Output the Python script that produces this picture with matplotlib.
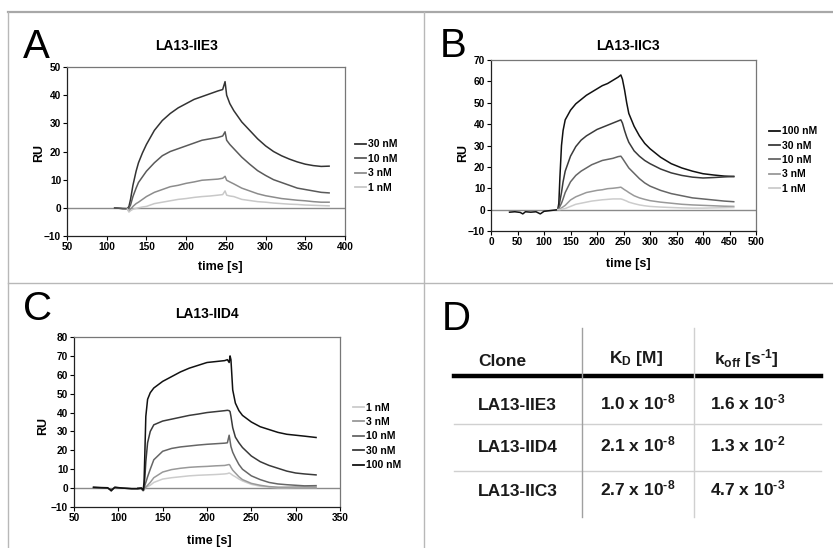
import numpy as np
import matplotlib
matplotlib.use("Agg")
import matplotlib.pyplot as plt
from matplotlib.lines import Line2D

plt.rcParams['font.family'] = ['Liberation Sans', 'DejaVu Sans']
plt.rcParams['mathtext.fontset'] = 'custom'
plt.rcParams['mathtext.rm'] = 'Liberation Sans:bold'
plt.rcParams['mathtext.bf'] = 'Liberation Sans:bold'
plt.rcParams['mathtext.it'] = 'Liberation Sans:bold'
plt.rcParams['mathtext.sf'] = 'Liberation Sans:bold'

nan = np.nan

# ---------------- data ----------------
# panel A : LA13-IIE3
a_time = [110, 120, 126, 128, 130, 133, 137, 140, 145, 150, 160, 170, 180, 190, 200,
          210, 220, 230, 240, 246, 249, 251, 255, 260, 270, 280, 290, 300, 310, 320,
          330, 340, 350, 360, 370, 380]
a_30nM = [0, -0.3, -0.3, 0.5, 3, 8, 13, 16, 19.5, 22.5, 27.5, 31, 33.5, 35.5, 37,
          38.5, 39.5, 40.5, 41.5, 42, 44.8, 40, 37, 34.5, 30.5, 27.5, 24.5, 22, 20, 18.5,
          17.3, 16.3, 15.5, 15, 14.7, 14.8]
a_10nM = [0, -0.2, -0.3, 0, 1, 4, 7, 9, 11, 13, 16, 18.5, 20, 21, 22,
          23, 24, 24.5, 25, 25.5, 27, 24, 22.5, 21, 18, 15.5, 13.2, 11.5, 10, 9,
          8, 7, 6.5, 6, 5.5, 5.3]
a_3nM = [nan, nan, -0.5, -1, -0.5, 0.5, 1.5, 2, 3, 4, 5.5, 6.5, 7.5, 8, 8.7,
         9.2, 9.8, 10, 10.2, 10.5, 11.2, 9.8, 9.2, 8.5, 7, 6, 5, 4.3, 3.8, 3.3,
         3, 2.7, 2.5, 2.2, 2, 2]
a_1nM = [nan, nan, -0.5, -1.5, -1, -0.5, -0.2, 0, 0.3, 0.5, 1.5, 2, 2.5, 3, 3.3,
         3.7, 4, 4.2, 4.5, 4.7, 6, 4.5, 4.2, 4, 3, 2.6, 2.2, 2, 1.7, 1.5,
         1.3, 1.2, 1, 0.9, 0.8, 0.7]

# panel B : LA13-IIC3
b_time = [35, 45, 55, 60, 65, 75, 85, 93, 100, 110, 120, 126, 128, 130, 133, 136, 140,
          150, 160, 170, 180, 190, 200, 210, 220, 230, 240, 245, 248, 252, 256, 260,
          270, 280, 290, 300, 320, 340, 360, 380, 400, 420, 440, 458]
b_100nM = [-1.2, -1, -1.3, -2, -1, -1.2, -1, -2, -0.8, -0.5, -0.2, 0, 3, 15, 30, 37, 42,
           46.5, 49.5, 51.5, 53.5, 55, 56.5, 58, 59, 60.5, 62, 63, 61, 56, 50, 45,
           39, 34.5, 31, 28.5, 24.5, 21.5, 19.5, 18, 16.8, 16.2, 15.7, 15.5]
b_30nM = [nan] * 11 + [0, 1, 4, 8, 13, 18,
          25, 29.5, 32.5, 34.5, 36, 37.5, 38.5, 39.5, 40.5, 41.5, 42, 40.5, 37, 34, 31.5,
          27.5, 25, 23, 21.5, 19, 17.2, 16, 15.2, 14.8, 15, 15.3, 15.5]
b_10nM = [nan] * 11 + [0, 0.5, 1.5, 3, 5, 8,
          13, 16, 18, 19.5, 21, 22, 23, 23.5, 24, 24.8, 25, 24, 22.5, 21, 19.5,
          17, 14.5, 12.5, 11, 9, 7.5, 6.5, 5.5, 5, 4.5, 4, 3.7]
b_3nM = [nan] * 11 + [0, 0, 0.3, 0.8, 1.3, 2,
         4.5, 6, 7, 8, 8.5, 9, 9.3, 9.8, 10, 10.3, 10.5, 10, 9.3, 8.7, 8,
         6.5, 5.5, 4.8, 4.2, 3.5, 3, 2.5, 2.2, 2, 1.8, 1.6, 1.5]
b_1nM = [nan] * 11 + [0, 0, 0, 0.2, 0.3, 0.5,
         1.5, 2.5, 3, 3.5, 4, 4.3, 4.6, 4.8, 5, 5, 5, 4.8, 4.4, 4, 3.5,
         2.8, 2.2, 1.8, 1.5, 1.2, 1, 0.8, 0.7, 0.7, 0.8, 0.9, 1]

# panel C : LA13-IID4
c_time = [72, 80, 88, 92, 96, 105, 115, 122, 126, 128, 129, 130, 131, 133, 136, 140,
          150, 160, 170, 180, 190, 200, 210, 220, 223, 225, 226, 227, 229, 232, 236,
          240, 250, 260, 270, 280, 290, 300, 310, 323]
c_100nM = [0.5, 0.3, 0.2, -1.5, 0.5, 0, -0.3, -0.3, 0, -1, 3, 20, 38, 47, 50.5, 53,
           56.5, 59, 61.5, 63.5, 65, 66.5, 67, 67.5, 68, 66.5, 70, 68, 52, 45, 41,
           38.5, 35, 32.5, 31, 29.5, 28.5, 28, 27.5, 26.8]
c_30nM = [0.3, 0.2, 0, -1, 0.3, 0, -0.3, -0.3, 0, -1, 1, 6, 14, 24, 30, 33.5,
          35.5, 36.5, 37.5, 38.5, 39.2, 40, 40.5, 41, 41.2, 41, 40.5, 38, 32, 27, 24,
          21.5, 17, 14, 12, 10.5, 9, 8, 7.5, 7]
c_10nM = [nan] * 7 + [0, 0, -1, -0.5, 1.5, 3, 6, 10, 15,
          19.5, 21, 21.8, 22.3, 22.8, 23.2, 23.5, 23.8, 24, 28, 25, 22, 19, 16, 12.5,
          10, 6.5, 4.5, 3, 2.2, 1.8, 1.5, 1.2, 1.3]
c_3nM = [nan] * 7 + [0, -0.5, -1.5, -1, 0, 0.5, 1.5, 3, 5.5,
         8.5, 9.8, 10.5, 11, 11.3, 11.5, 11.8, 12, 12.3, 12.5, 12, 11, 9.5, 8, 6,
         4.5, 2.5, 1.5, 0.8, 0.5, 0.5, 0.6, 0.6, 0.5]
c_1nM = [nan] * 7 + [0, -0.5, -1, -0.8, 0, 0.3, 0.8, 1.5, 3,
         4.8, 5.5, 6, 6.5, 6.8, 7, 7.2, 7.5, 7.7, 8, 7.8, 7.5, 6.8, 6, 4.8,
         3.8, 2, 1, 0.5, 0.2, 0.2, 0.3, 0.3, 0.3]

# panel D : table
clones = ['LA13-IIE3', 'LA13-IID4', 'LA13-IIC3']
kd_vals = [r'1.0 x 10$^{\text{-}8}$', r'2.1 x 10$^{\text{-}8}$', r'2.7 x 10$^{\text{-}8}$']
koff_vals = [r'1.6 x 10$^{\text{-}3}$', r'1.3 x 10$^{\text{-}2}$', r'4.7 x 10$^{\text{-}3}$']

W, H = 833, 548
fig = plt.figure(figsize=(W / 100, H / 100), dpi=100)


def fx(px):
    return px / W


def fy(py):
    return 1 - py / H


def box(l, t, r, b):
    return [fx(l), fy(b), fx(r) - fx(l), fy(t) - fy(b)]


def sensorgram(rect, t, series, labels, colors, xlim, xstep, ylim, ystep, leg_xy):
    ax = fig.add_axes(rect)
    t = np.array(t, dtype=float)
    for vals, c in zip(series, colors):
        ax.plot(t, np.array(vals, dtype=float), color=c, lw=1.1, zorder=3)
    ax.axhline(0, color='#8a8a8a', lw=1.0, zorder=2)
    ax.set_xlim(*xlim)
    ax.set_ylim(*ylim)
    ax.set_xticks(np.arange(xlim[0], xlim[1] + 1, xstep))
    ax.set_yticks(np.arange(ylim[0], ylim[1] + 1, ystep))
    ax.tick_params(direction='out', length=3, width=0.8, labelsize=7.3, pad=1.2)
    for lab in ax.get_xticklabels() + ax.get_yticklabels():
        lab.set_fontweight('bold')
    for s in ['left', 'bottom']:
        ax.spines[s].set_color('#222222')
        ax.spines[s].set_linewidth(0.9)
    for s in ['top', 'right']:
        ax.spines[s].set_color('#777777')
        ax.spines[s].set_linewidth(0.9)
    handles = [Line2D([], [], color=c, lw=1.3) for c in colors]
    ax.legend(handles, labels, loc='center left', bbox_to_anchor=leg_xy, frameon=False,
              handlelength=1.1, handletextpad=0.15, labelspacing=0.42,
              borderaxespad=0, borderpad=0, prop={'size': 7.5, 'weight': 'bold'})
    return ax


# panel borders
border = dict(color='#b8b8b8', lw=1.0, transform=fig.transFigure)
fig.add_artist(Line2D([fx(8), fx(833)], [fy(12), fy(12)], color='#a8a8a8', lw=1.6,
                      transform=fig.transFigure))
fig.add_artist(Line2D([fx(8), fx(8)], [fy(12), fy(548)], **border))
fig.add_artist(Line2D([fx(424), fx(424)], [fy(12), fy(548)], **border))
fig.add_artist(Line2D([fx(8), fx(833)], [fy(283), fy(283)], **border))

# A
sensorgram(box(67, 67, 345, 236), a_time, [a_30nM, a_10nM, a_3nM, a_1nM],
           ['30 nM', '10 nM', '3 nM', '1 nM'],
           ['#333333', '#5a5a5a', '#8c8c8c', '#c8c8c8'],
           (50, 400), 50, (-10, 50), 10, (1.036, 0.414))
# B
sensorgram(box(491, 60, 756, 231), b_time, [b_100nM, b_30nM, b_10nM, b_3nM, b_1nM],
           ['100 nM', '30 nM', '10 nM', '3 nM', '1 nM'],
           ['#111111', '#3a3a3a', '#666666', '#999999', '#cccccc'],
           (0, 500), 50, (-10, 70), 10, (1.049, 0.415))
# C
sensorgram(box(74, 337, 340, 507), c_time, [c_1nM, c_3nM, c_10nM, c_30nM, c_100nM],
           ['1 nM', '3 nM', '10 nM', '30 nM', '100 nM'],
           ['#cccccc', '#999999', '#666666', '#3a3a3a', '#111111'],
           (50, 350), 50, (-10, 80), 10, (1.049, 0.415))

# titles, axis labels, panel letters
bold9 = dict(fontsize=9, fontweight='bold', ha='center', va='center')
for x, y, s in [(187, 50, 'LA13-IIE3'), (628, 50, 'LA13-IIC3'), (207, 318, 'LA13-IID4')]:
    fig.text(fx(x), fy(y), s, fontsize=10, fontweight='bold', ha='center', va='baseline')
for x, y in [(220, 267), (628, 264), (209, 541)]:
    fig.text(fx(x), fy(y), 'time [s]', **bold9)
for x, y in [(39, 153), (463, 153), (43, 426)]:
    fig.text(fx(x), fy(y), 'RU', rotation=90, **bold9)
for x, y, s in [(23, 58, 'A'), (440, 57, 'B'), (23, 320, 'C'), (442, 330, 'D')]:
    fig.text(fx(x), fy(y), s, fontsize=29, ha='left', va='baseline')

# D table
tcol = '#1a1a1a'
tfont = dict(fontsize=12.5, fontweight='bold', va='center', color=tcol)
fig.add_artist(Line2D([fx(454), fx(821)], [fy(376), fy(376)], color='black', lw=3.2,
                      transform=fig.transFigure))
for y in [424, 471]:
    fig.add_artist(Line2D([fx(454), fx(821)], [fy(y), fy(y)], color='#d0d0d0', lw=1.0,
                          transform=fig.transFigure))
fig.add_artist(Line2D([fx(582), fx(582)], [fy(328), fy(517)], color='#a0a0a0', lw=1.0,
                      transform=fig.transFigure))
fig.add_artist(Line2D([fx(694), fx(694)], [fy(328), fy(517)], color='#d0d0d0', lw=1.0,
                      transform=fig.transFigure))
fig.text(fx(478), fy(361), 'Clone', ha='left', **tfont)
fig.text(fx(636), fy(359), r'K$_\mathrm{D}$ [M]', ha='center', **tfont)
fig.text(fx(746), fy(359), r'k$_\mathrm{off}$ [s$^{\text{-}1}$]', ha='center', **tfont)
for i, y in enumerate([405, 447, 491]):
    fig.text(fx(478), fy(y), clones[i], ha='left', **tfont)
    fig.text(fx(638), fy(y - 3), kd_vals[i], ha='center', **tfont)
    fig.text(fx(748), fy(y - 3), koff_vals[i], ha='center', **tfont)

fig.savefig('out.png', dpi=100)
